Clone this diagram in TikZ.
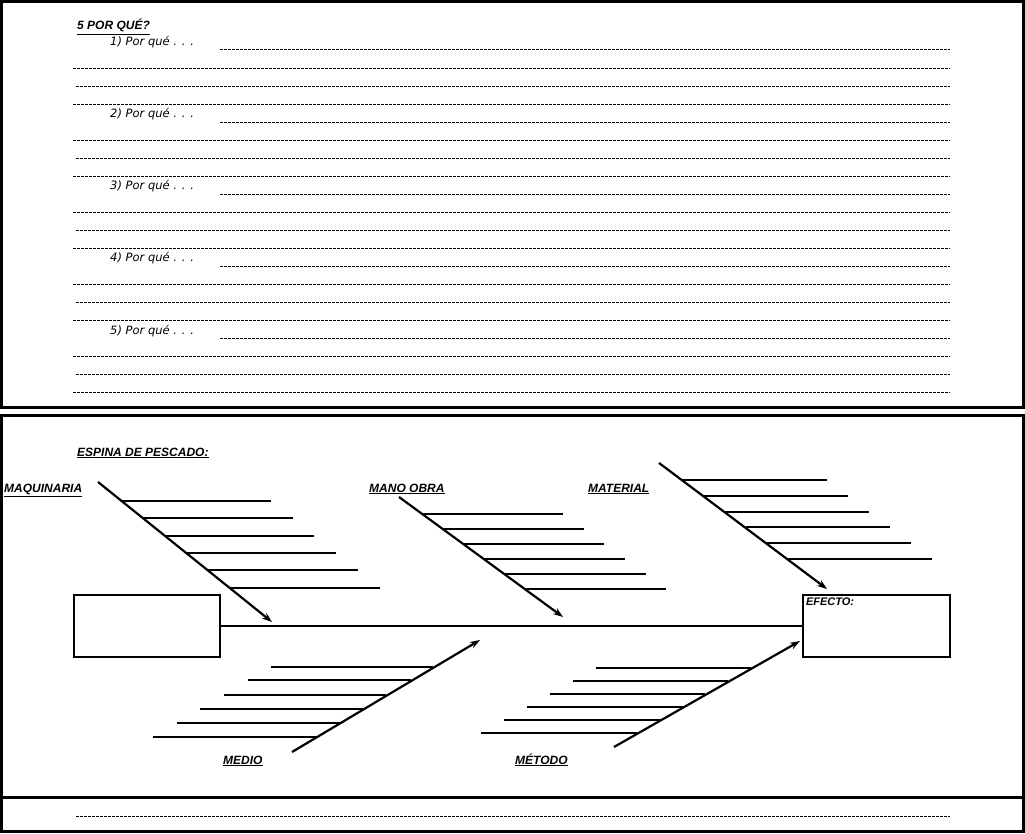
\documentclass[tikz,border=0pt]{standalone}
\usepackage{fontspec}
\setmainfont{Liberation Sans}
\newfontfamily\porfont{DejaVu Sans}
\usetikzlibrary{arrows.meta}

\tikzset{
	frame/.style={line width=3pt},
	guide/.style={line width=0.9pt,dash pattern=on 2.6pt off 1.4pt},
	bone/.style={line width=2.2pt,-{Stealth[length=10pt,width=7pt]}},
	rib/.style={line width=1.5pt},
	heading/.style={anchor=base west,inner sep=0pt,font=\fontsize{12}{14}\selectfont\bfseries\itshape},
	cause/.style={anchor=base west,inner sep=0pt,font=\fontsize{12}{14}\selectfont\bfseries\itshape},
	why/.style={anchor=base west,inner sep=0pt,font=\fontsize{11.5}{14}\selectfont\porfont\itshape},
	panel/.style={draw,line width=2.4pt,minimum width=146pt,minimum height=62pt,inner sep=0pt}
}

\begin{document}
\begin{tikzpicture}[x=1pt,y=-1pt]
	\useasboundingbox (0,0) rectangle (1025,834);

	% frames
	\draw[frame] (1.5,1.5) rectangle (1023,407);
	\draw[frame] (1.5,415) rectangle (1023,797);
	\draw[frame] (1.5,797) -- (1.5,831) -- (1023,831) -- (1023,797);

	% 5 por que
	\node[heading] (title) at (77,30) {\underline{5 POR QUÉ?}};

	\node[why] (why1) at (110,46) {1) Por qué . . .};
	\draw[guide] (220,49) -- (950,49);
	\draw[guide] (73,68) -- (950,68);
	\draw[guide] (76,86) -- (950,86);
	\draw[guide] (73,104) -- (950,104);

	\node[why] (why2) at (110,118) {2) Por qué . . .};
	\draw[guide] (220,122) -- (950,122);
	\draw[guide] (73,140) -- (950,140);
	\draw[guide] (76,158) -- (950,158);
	\draw[guide] (73,176) -- (950,176);

	\node[why] (why3) at (110,190) {3) Por qué . . .};
	\draw[guide] (220,194) -- (950,194);
	\draw[guide] (73,212) -- (950,212);
	\draw[guide] (76,230) -- (950,230);
	\draw[guide] (73,248) -- (950,248);

	\node[why] (why4) at (110,262) {4) Por qué . . .};
	\draw[guide] (220,266) -- (950,266);
	\draw[guide] (73,284) -- (950,284);
	\draw[guide] (76,302) -- (950,302);
	\draw[guide] (73,320) -- (950,320);

	\node[why] (why5) at (110,334) {5) Por qué . . .};
	\draw[guide] (220,338) -- (950,338);
	\draw[guide] (73,356) -- (950,356);
	\draw[guide] (76,374) -- (950,374);
	\draw[guide] (73,392) -- (950,392);

	% espina de pescado
	\node[heading] (fish) at (77,456) {\underline{ESPINA DE PESCADO:}};

	\node[panel] (problem) at (147,626) {};
	\node[panel,minimum width=147pt] (effect) at (876.5,626) {};
	\node[anchor=north west,inner sep=0pt,font=\fontsize{11}{13}\selectfont\bfseries\itshape] (efecto) at ([shift={(4,4)}]effect.north west) {EFECTO:};
	\draw[line width=2.4pt] (problem.east) -- (effect.west);

	\node[cause] (maq) at (4,492) {\underline{MAQUINARIA}};
	\node[cause] (mano) at (369,492) {\underline{MANO OBRA}};
	\node[cause] (mat) at (588,492) {\underline{MATERIAL}};
	\node[cause] (medio) at (223,764) {\underline{MEDIO}};
	\node[cause] (metodo) at (515,764) {\underline{MÉTODO}};

	\coordinate (maq-s) at (98,482);
	\coordinate (maq-e) at (272,622);
	\coordinate (mano-s) at (399,497);
	\coordinate (mano-e) at (563,617);
	\coordinate (mat-s) at (659,463);
	\coordinate (mat-e) at (827,589);
	\coordinate (medio-s) at (292,752);
	\coordinate (medio-e) at (480,640);
	\coordinate (metodo-s) at (614,747);
	\coordinate (metodo-e) at (800,641);

	\draw[bone] (maq-s) -- (maq-e);
	\draw[bone] (mano-s) -- (mano-e);
	\draw[bone] (mat-s) -- (mat-e);
	\draw[bone] (medio-s) -- (medio-e);
	\draw[bone] (metodo-s) -- (metodo-e);

	\draw[rib] (122,501) -- ++(149,0);
	\draw[rib] (143,518) -- ++(150,0);
	\draw[rib] (166,536) -- ++(148,0);
	\draw[rib] (187,553) -- ++(149,0);
	\draw[rib] (208,570) -- ++(150,0);
	\draw[rib] (230,588) -- ++(150,0);

	\draw[rib] (422,514) -- ++(141,0);
	\draw[rib] (443,529) -- ++(141,0);
	\draw[rib] (464,544) -- ++(140,0);
	\draw[rib] (485,559) -- ++(140,0);
	\draw[rib] (505,574) -- ++(141,0);
	\draw[rib] (526,589) -- ++(140,0);

	\draw[rib] (682,480) -- ++(145,0);
	\draw[rib] (703,496) -- ++(145,0);
	\draw[rib] (725,512) -- ++(144,0);
	\draw[rib] (746,527) -- ++(144,0);
	\draw[rib] (767,543) -- ++(144,0);
	\draw[rib] (788,559) -- ++(144,0);

	\draw[rib] (433,667) -- ++(-162,0);
	\draw[rib] (411,680) -- ++(-163,0);
	\draw[rib] (386,695) -- ++(-162,0);
	\draw[rib] (363,709) -- ++(-163,0);
	\draw[rib] (340,723) -- ++(-163,0);
	\draw[rib] (317,737) -- ++(-164,0);

	\draw[rib] (751,668) -- ++(-155,0);
	\draw[rib] (728,681) -- ++(-155,0);
	\draw[rib] (705,694) -- ++(-155,0);
	\draw[rib] (683,707) -- ++(-156,0);
	\draw[rib] (660,720) -- ++(-156,0);
	\draw[rib] (637,733) -- ++(-156,0);

	\draw[guide] (76,816) -- (950,816);
\end{tikzpicture}
\end{document}
